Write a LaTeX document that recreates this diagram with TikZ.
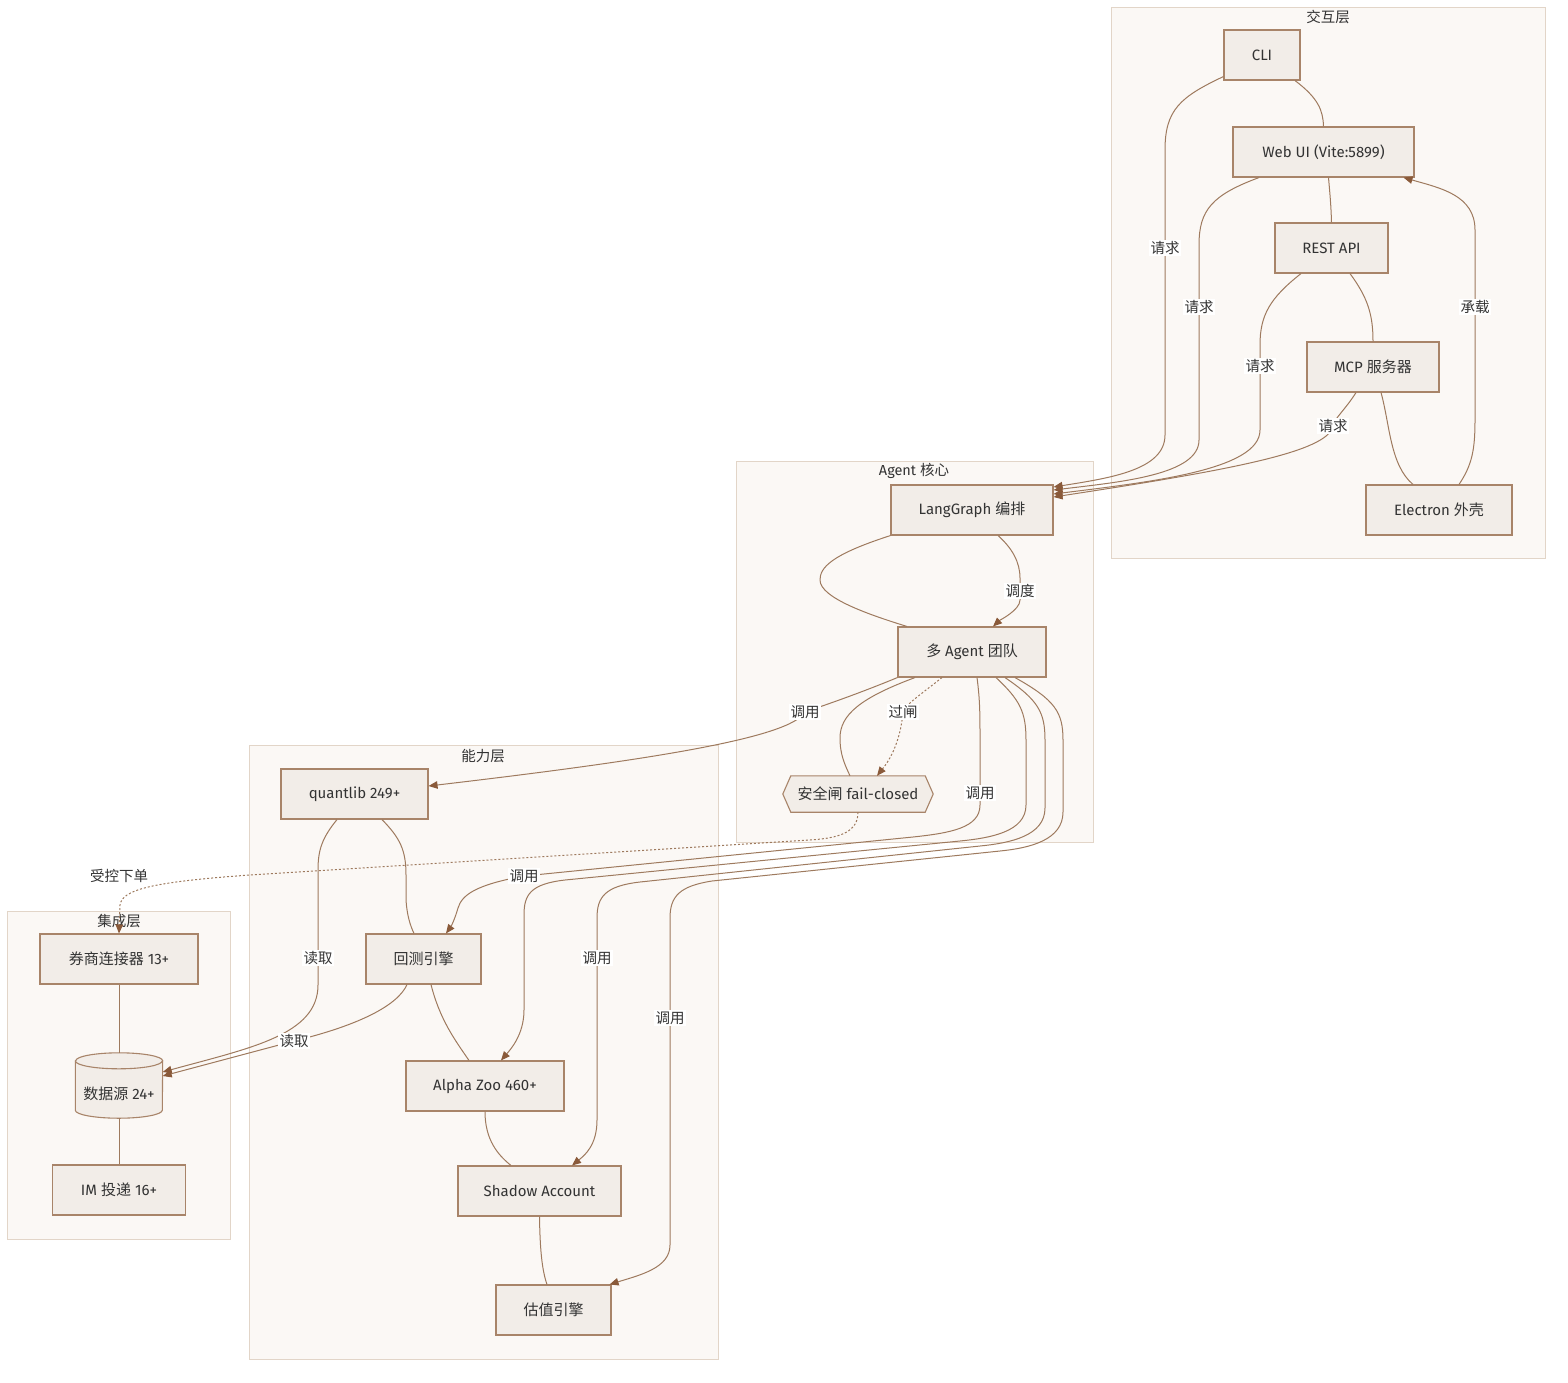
\documentclass[tikz,border=0pt]{standalone}
\usepackage{fontspec}
\setmainfont{Fira Sans}
\newfontfamily\cjk{Noto Sans CJK SC}
\usetikzlibrary{arrows.meta}
\pgfdeclarelayer{back}
\pgfsetlayers{back,main}
\definecolor{nfill}{HTML}{F2EDE8}
\definecolor{nline}{HTML}{A88469}
\definecolor{eline}{HTML}{9E7A5E}
\definecolor{arrc}{HTML}{8A5A3A}
\definecolor{cfill}{HTML}{FBF8F5}
\definecolor{cline}{HTML}{E2D5C8}
\definecolor{txt}{HTML}{333333}
\tikzset{
  box/.style={draw=nline, fill=nfill, line width=1.1pt, minimum height=50pt, inner sep=0pt,
    font=\fontsize{15}{17}\selectfont, text=txt},
  bare/.style={inner sep=0pt, font=\fontsize{15}{17}\selectfont, text=txt},
  edge/.style={draw=eline, line width=1pt},
  arr/.style={edge, -{Triangle[length=9pt,width=7.5pt,color=arrc]}},
  dotl/.style={arr, dash pattern=on 2pt off 2pt},
  lbl/.style={fill=white, inner sep=1.5pt, font=\fontsize{14.5}{17}\selectfont, text=txt},
  ttl/.style={inner sep=0pt, font=\fontsize{14.5}{17}\selectfont, text=txt},
  clus/.style={draw=cline, fill=cfill, line width=1pt}
}
\begin{document}
\begin{tikzpicture}[x=1pt,y=-1pt]
\useasboundingbox (0,0) rectangle (1568,1382);
% clusters
\begin{pgfonlayer}{back}
\fill[white] (0,0) rectangle (1568,1382);
\draw[clus] (1111,7) rectangle (1545,558);
\draw[clus] (736,461) rectangle (1093,842);
\draw[clus] (249,745) rectangle (718,1359);
\draw[clus] (7,911) rectangle (230,1239);
\end{pgfonlayer}
\node[ttl] (t1) at (1328,17) {\cjk 交互层};
\node[ttl] (t2) at (914,471) {Agent {\cjk 核心}};
\node[ttl] (t3) at (483,756) {\cjk 能力层};
\node[ttl] (t4) at (119,921) {\cjk 集成层};
% interaction layer nodes
\node[box, minimum width=76pt] (cli) at (1262,55) {CLI};
\node[box, minimum width=181pt] (web) at (1323.5,152) {Web UI (Vite:5899)};
\node[box, minimum width=113pt] (rest) at (1331.5,248) {REST API};
\node[box, minimum width=132pt] (mcp) at (1373,367) {MCP {\cjk 服务器}};
\node[box, minimum width=146pt] (elec) at (1439,510) {Electron {\cjk 外壳}};
% agent core
\node[box, minimum width=162pt] (lg) at (972,510) {LangGraph {\cjk 编排}};
\node[box, minimum width=148pt] (team) at (972,652) {{\cjk 多} Agent {\cjk 团队}};
\node[bare, minimum width=150pt, minimum height=36pt] (gate) at (858,794) {{\cjk 安全闸} fail-closed};
\begin{pgfonlayer}{back}
\filldraw[draw=nline, fill=nfill, line width=1.1pt] (gate.west) -- ([xshift=8pt]gate.north west) -- ([xshift=-8pt]gate.north east) -- (gate.east) -- ([xshift=-8pt]gate.south east) -- ([xshift=8pt]gate.south west) -- cycle;
\end{pgfonlayer}
% capability
\node[box, minimum width=147pt] (ql) at (354.5,794) {quantlib 249+};
\node[box, minimum width=115pt] (bt) at (423.5,959) {\cjk 回测引擎};
\node[box, minimum width=158pt] (az) at (485,1086) {Alpha Zoo 460+};
\node[box, minimum width=163pt] (sa) at (539.5,1191) {Shadow Account};
\node[box, minimum width=115pt] (val) at (553.5,1310) {\cjk 估值引擎};
% integration
\node[box, minimum width=158pt] (broker) at (119,959) {{\cjk 券商连接器} 13+};
\node[bare, minimum width=87pt, minimum height=65pt] (ds) at (119,1085.5) {};
\begin{pgfonlayer}{back}
\filldraw[draw=nline, fill=nfill, line width=1.1pt] ([yshift=-8pt]ds.north west) -- ([yshift=8pt]ds.south west) arc[start angle=180, end angle=360, x radius=43.5pt, y radius=8pt] -- ([yshift=-8pt]ds.north east) arc[start angle=0, end angle=180, x radius=43.5pt, y radius=8pt] -- cycle;
\draw[draw=nline, line width=1.1pt] ([yshift=-8pt]ds.north west) arc[start angle=180, end angle=360, x radius=43.5pt, y radius=8pt];
\end{pgfonlayer}
\node[bare] (dstext) at (119,1094) {{\cjk 数据源} 24+};
\node[box, minimum width=133pt] (im) at (119,1190) {IM {\cjk 投递} 16+};

% ---------- interaction edges
\draw[edge] ([xshift=33pt]cli.south) .. controls (1318,98) and (1323,110) .. (web.north);
\draw[edge] ([xshift=5pt]web.south) .. controls (1330,195) and (1331,205) .. (rest.north);
\draw[edge] ([xshift=18.5pt]rest.south) .. controls (1368,298) and (1373,315) .. (mcp.north);
\draw[edge] ([xshift=8pt]mcp.south) .. controls (1390,425) and (1390,465) .. ([xshift=-26pt]elec.north);
\draw[arr] ([xshift=20pt]elec.north) .. controls (1472,465) and (1475,450) .. (1475,420) -- (1475,307) node[lbl] (l1) {\cjk 承载} -- (1475,230) .. controls (1475,195) and (1440,188) .. ([xshift=80pt]web.south);
\draw[arr] ([yshift=4pt]cli.south west) .. controls (1180,97) and (1165,110) .. (1165,150) -- (1165,248) node[lbl] (l2) {\cjk 请求} -- (1165,435) .. controls (1165,470) and (1110,478) .. ([yshift=23pt]lg.east);
\draw[arr] ([xshift=-64.5pt]web.south) .. controls (1212,195) and (1199,210) .. (1199,245) -- (1199,307) node[lbl] (l3) {\cjk 请求} -- (1199,440) .. controls (1199,475) and (1120,482) .. ([yshift=20pt]lg.east);
\draw[arr] ([xshift=-30.5pt]rest.south) .. controls (1270,298) and (1260,315) .. (1260,345) -- (1260,366) node[lbl] (l4) {\cjk 请求} -- (1260,430) .. controls (1260,470) and (1150,482) .. ([yshift=16pt]lg.east);
\draw[arr] ([xshift=-17pt]mcp.south) .. controls (1345,410) and (1333,420) .. (1333,426) node[lbl] (l5) {\cjk 请求} .. controls (1328,452) and (1230,470) .. ([yshift=13pt]lg.east);

% ---------- agent core edges
\draw[arr] ([xshift=26pt]lg.south) .. controls (1012,548) and (1020,562) .. (1020,578) -- (1020,591) node[lbl] (l6) {\cjk 调度} -- (1020,600) .. controls (1020,610) and (1000,620) .. ([xshift=21pt]team.north);
\draw[edge] (lg.south west) .. controls (830,555) and (820,568) .. (820,580) .. controls (820,598) and (870,615) .. ([xshift=-65pt]team.north);
\draw[dotl] ([xshift=-30pt]team.south) .. controls (920,695) and (905,705) .. (903,712) node[lbl] (l7) {\cjk 过闸} .. controls (900,745) and (888,762) .. ([xshift=19pt]gate.north);
\draw[edge] ([xshift=-57pt]team.south) .. controls (860,698) and (840,715) .. (840,738) .. controls (840,755) and (845,765) .. ([xshift=-8pt]gate.north);
\draw[arr] (team.south west) .. controls (855,695) and (825,705) .. (805,712) node[lbl] (l8) {\cjk 调用} .. controls (790,738) and (650,760) .. ([yshift=8pt]ql.east);
\draw[arr] ([xshift=5pt]team.south) .. controls (980,700) and (980,715) .. (980,740) -- (980,793) node[lbl] (l9) {\cjk 调用} -- (980,805) .. controls (980,828) and (950,833) .. (913,837) -- (524,876) node[lbl] (l10) {\cjk 调用} .. controls (475,885) and (462,895) .. (458,908) .. controls (454,922) and (450,928) .. ([xshift=22.5pt]bt.north);
\draw[arr] ([xshift=24pt]team.south) .. controls (1020,700) and (1026,712) .. (1026,740) -- (1026,805) .. controls (1026,832) and (990,838) .. (960,841) -- (565,880) .. controls (530,884) and (524,895) .. (524,915) -- (524,1010) .. controls (524,1035) and (510,1050) .. ([xshift=16pt]az.north);
\draw[arr] ([xshift=33pt]team.south) .. controls (1038,700) and (1045,712) .. (1045,740) -- (1045,808) .. controls (1045,836) and (1010,843) .. (980,846) -- (640,882) .. controls (605,886) and (597,897) .. (597,918) -- (597,958) node[lbl] (l11) {\cjk 调用} -- (597,1120) .. controls (597,1145) and (585,1155) .. ([xshift=32.5pt]sa.north);
\draw[arr] ([xshift=43pt]team.south) .. controls (1055,700) and (1063,712) .. (1063,740) -- (1063,812) .. controls (1063,840) and (1030,848) .. (1000,851) -- (712,881) .. controls (680,886) and (670,896) .. (670,918) -- (670,1018) node[lbl] (l12) {\cjk 调用} -- (670,1245) .. controls (670,1268) and (640,1275) .. ([xshift=-2pt]val.north east);
\draw[dotl] (gate.south) .. controls (858,832) and (840,838) .. (810,840) -- (250,875) .. controls (150,882) and (122,890) .. (120,905) -- (broker.north);
\node[lbl] (l13) at (119,876) {\cjk 受控下单};

% ---------- capability edges
\draw[arr] ([xshift=-17.5pt]ql.south) .. controls (322,838) and (318,850) .. (318,870) -- (318,958) node[lbl] (l14) {\cjk 读取} -- (318,985) .. controls (318,1035) and (250,1048) .. ([yshift=13.5pt]ds.east);
\draw[edge] ([xshift=27.5pt]ql.south) .. controls (400,838) and (406,850) .. (406,875) -- (406,900) .. controls (407,915) and (410,925) .. ([xshift=-9.5pt]bt.north);
\draw[arr] ([xshift=-16.5pt]bt.south) .. controls (398,1005) and (360,1025) .. (294,1041) node[lbl] (l15) {\cjk 读取} -- ([yshift=9.5pt]ds.east);
\draw[edge] ([xshift=7.5pt]bt.south) .. controls (440,1020) and (455,1040) .. ([xshift=-16pt]az.north);
\draw[edge] (az.south) .. controls (485,1140) and (498,1155) .. ([xshift=-28.5pt]sa.north);
\draw[edge] (sa.south) .. controls (540,1250) and (542,1270) .. ([xshift=-6.5pt]val.north);
\draw[edge] (broker.south) -- (ds.north);
\draw[edge] (ds.south) -- (im.north);
\end{tikzpicture}
\end{document}
